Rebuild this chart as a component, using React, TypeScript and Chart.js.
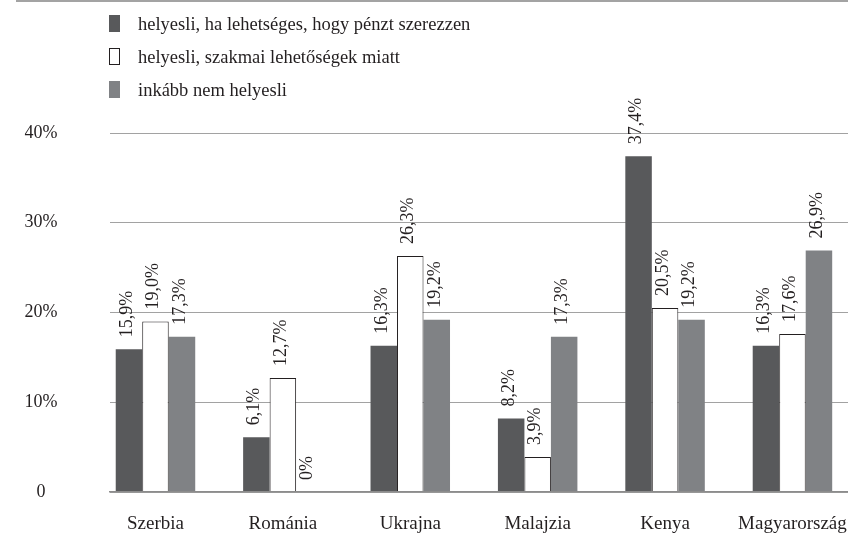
import React, { useEffect, useRef } from "react";
import { Chart, registerables } from "chart.js";

Chart.register(...registerables);

const categories = ["Szerbia", "Románia", "Ukrajna", "Malajzia", "Kenya", "Magyarország"];
const seriesNames = [
  "helyesli, ha lehetséges, hogy pénzt szerezzen",
  "helyesli, szakmai lehetőségek miatt",
  "inkább nem helyesli",
];
const moneyValues = [15.9, 6.1, 16.3, 8.2, 37.4, 16.3];
const professionalValues = [19.0, 12.7, 26.3, 3.9, 20.5, 17.6];
const notApproveValues = [17.3, 0, 19.2, 17.3, 19.2, 26.9];
const yTickValues = [0, 10, 20, 30, 40];

const fills = ["#58595b", "#ffffff", "#808285"];
const borders = ["#58595b", "#231f20", "#808285"];
const borderWidths = [0, 1, 0];

const FONT = "Liberation Serif, Times New Roman, serif";
const TEXT = "#231f20";

const fmt = (v: number) => (v === 0 ? "0%" : v.toFixed(1).replace(".", ",") + "%");

const labelPlugin = {
  id: "barValueLabels",
  afterDatasetsDraw(chart: any) {
    const ctx = chart.ctx;
    ctx.save();
    ctx.font = `18px ${FONT}`;
    ctx.fillStyle = TEXT;
    ctx.textAlign = "left";
    ctx.textBaseline = "middle";
    chart.data.datasets.forEach((ds: any, di: number) => {
      const meta = chart.getDatasetMeta(di);
      meta.data.forEach((el: any, i: number) => {
        const v = ds.data[i].y;
        ctx.save();
        ctx.translate(el.x - 2, el.y - 12);
        ctx.rotate(-Math.PI / 2);
        ctx.fillText(fmt(v), 0, 0);
        ctx.restore();
      });
    });
    ctx.restore();
  },
};

export default function App() {
  const ref = useRef<HTMLCanvasElement | null>(null);

  useEffect(() => {
    if (!ref.current) return;
    const allSeries = [moneyValues, professionalValues, notApproveValues];
    const chart = new Chart(ref.current, {
      type: "bar",
      data: {
        datasets: allSeries.map((vals, s) => ({
          label: seriesNames[s],
          data: vals.map((v, i) => ({ x: i, y: v })),
          backgroundColor: fills[s],
          borderColor: borders[s],
          borderWidth: borderWidths[s],
          categoryPercentage: 0.624,
          barPercentage: 1,
        })),
      },
      options: {
        responsive: false,
        animation: false,
        layout: { padding: { top: 133, left: 24.5, right: 0, bottom: 0 } },
        plugins: {
          legend: { display: false },
          tooltip: { enabled: false },
        },
        scales: {
          x: {
            type: "linear",
            offset: false,
            min: -0.357,
            max: 5.436,
            grid: { display: false, offset: false, drawTicks: false },
            border: { display: true, color: "#8c8c8c", width: 1.5, z: 1 },
            afterBuildTicks: (scale: any) => {
              scale.ticks = categories.map((_, i) => ({ value: i }));
            },
            afterFit: (scale: any) => {
              scale.height = 42;
              scale.paddingLeft = 0;
              scale.paddingRight = 0;
            },
            ticks: {
              autoSkip: false,
              maxRotation: 0,
              minRotation: 0,
              padding: 21,
              color: TEXT,
              font: { family: FONT, size: 19 },
              callback: (v: any) => categories[v as number] ?? "",
            },
          },
          y: {
            min: 0,
            max: 40,
            afterBuildTicks: (scale: any) => {
              scale.ticks = yTickValues.map((v) => ({ value: v }));
            },
            afterFit: (scale: any) => {
              scale.width = 85.5;
              scale.paddingTop = 0;
              scale.paddingBottom = 0;
            },
            grid: { color: "#a2a2a2", lineWidth: 1, drawTicks: false },
            border: { display: false },
            ticks: {
              crossAlign: "center",
              padding: 52.5,
              color: TEXT,
              font: { family: FONT, size: 18 },
              callback: (v: any) => (v === 0 ? "0" : v + "%"),
            },
          },
        },
      },
      plugins: [labelPlugin],
    } as any);
    return () => chart.destroy();
  }, []);

  return (
    <div
      style={{
        position: "absolute",
        left: 0,
        top: 0,
        width: 848,
        height: 534,
        overflow: "hidden",
        background: "#ffffff",
        fontFamily: FONT,
      }}
    >
      <div
        style={{
          position: "absolute",
          left: 16,
          right: 0,
          top: 0,
          height: 0,
          borderTop: "2px solid #a3a3a3",
        }}
      />
      <canvas ref={ref} width={848} height={534} style={{ position: "absolute", left: 0, top: 0, width: 848, height: 534 }} />
      {seriesNames.map((name, s) => (
        <div
          key={name}
          style={{
            position: "absolute",
            left: 109,
            top: 23.5 + 33 * s - 12,
            height: 24,
            display: "flex",
            alignItems: "center",
            whiteSpace: "nowrap",
          }}
        >
          <span
            style={{
              display: "inline-block",
              width: s === 1 ? 9 : 11,
              height: s === 1 ? 15 : 17,
              background: fills[s],
              border: s === 1 ? `1px solid ${borders[s]}` : "none",
              marginRight: 18,
            }}
          />
          <span style={{ fontSize: 18.5, color: TEXT, lineHeight: "24px" }}>{name}</span>
        </div>
      ))}
    </div>
  );
}
